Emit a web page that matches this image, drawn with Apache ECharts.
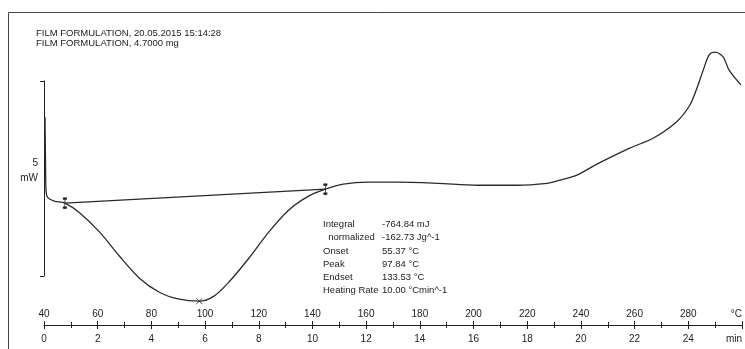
<!DOCTYPE html>
<html>
<head>
<meta charset="utf-8">
<script src="https://cdn.jsdelivr.net/npm/echarts@6/dist/echarts.min.js"></script>
<style>
  html, body { margin: 0; padding: 0; background: #fff; }
  #chart { width: 745px; height: 349px; }
</style>
</head>
<body>
<div id="chart"></div>
<script>
// DSC heating run, heat flow (mW) against sample temperature (°C)
const headerLines = ['FILM FORMULATION, 20.05.2015 15:14:28', 'FILM FORMULATION, 4.7000 mg'];

const curveTemp = [40.37, 40.56, 40.74, 41.11, 42.22, 44.07, 47.78, 53.33, 60.74, 68.15, 75.56, 82.96, 90.37, 97.84,
  103.33, 108.89, 116.30, 123.70, 131.11, 138.52, 144.81, 151.48, 160.74, 171.85, 186.67, 201.48, 216.30, 227.41,
  231.11, 238.52, 245.93, 258.15, 267.04, 275.56, 280.37, 282.96, 285.56, 287.78, 290.00, 292.96, 295.19, 299.63];
const curveHeatFlow = [4.08, 2.97, 2.21, 2.05, 1.97, 1.92, 1.87, 1.62, 1.13, 0.51, -0.05, -0.41, -0.59, -0.64,
  -0.51, -0.15, 0.46, 1.13, 1.69, 2.05, 2.23, 2.36, 2.41, 2.41, 2.38, 2.33, 2.33, 2.38,
  2.44, 2.59, 2.87, 3.28, 3.54, 3.95, 4.36, 4.77, 5.28, 5.67, 5.74, 5.62, 5.28, 4.90];

// integration limits (baseline end points) and peak position
const limitTemp = [47.78, 144.81];
const limitHeatFlow = [1.87, 2.23];
const peakTemp = [97.84];
const peakHeatFlow = [-0.64];

// axis ranges and ticks
const tempMin = 40, tempMax = 300, tempStep = 20;
const timeMin = 0, timeMax = 26, timeStep = 2;
const heatFlowMin = -1.25, heatFlowMax = 6;
const scaleBar = [0, 5];

const resultLabels = ['Integral', '  normalized', 'Onset', 'Peak', 'Endset', 'Heating Rate'];
const resultValues = ['-764.84 mJ', '-162.73 Jg^-1', '55.37 °C', '97.84 °C', '133.53 °C', '10.00 °Cmin^-1'];

const FONT = '"Liberation Sans", Arial, sans-serif';
const INK = '#222';

const zip = (xs, ys) => xs.map((x, i) => [x, ys[i]]);

const chart = echarts.init(document.getElementById('chart'), null, { renderer: 'canvas' });

chart.setOption({
  animation: false,
  backgroundColor: '#fff',
  grid: [
    { left: 44, width: 702, top: 42, bottom: 24 },
    { left: 44, width: 2, top: 81, bottom: 73 }
  ],
  xAxis: [
    {
      type: 'value', gridIndex: 0, position: 'bottom',
      min: tempMin, max: tempMax, interval: tempStep,
      axisLine: { show: true, onZero: false, lineStyle: { color: INK, width: 1 } },
      axisTick: { show: true, inside: true, length: 4, lineStyle: { color: INK } },
      minorTick: { show: true, splitNumber: 2, length: 3, lineStyle: { color: INK } },
      splitLine: { show: false },
      axisLabel: {
        inside: true, margin: 6, color: INK, fontFamily: FONT, fontSize: 10,
        alignMaxLabel: 'right',
        formatter: v => (v === tempMax ? '°C' : String(v))
      }
    },
    {
      type: 'value', gridIndex: 0, position: 'bottom',
      min: timeMin, max: timeMax, interval: timeStep,
      axisLine: { show: false, onZero: false },
      axisTick: { show: true, inside: false, length: 4, lineStyle: { color: INK } },
      minorTick: { show: true, splitNumber: 2, length: 3, lineStyle: { color: INK } },
      splitLine: { show: false },
      axisLabel: {
        margin: 9, color: INK, fontFamily: FONT, fontSize: 10,
        alignMaxLabel: 'right',
        formatter: v => (v === timeMax ? 'min' : String(v))
      }
    },
    { type: 'value', gridIndex: 1, show: false, min: 0, max: 1 }
  ],
  yAxis: [
    { type: 'value', gridIndex: 0, show: false, min: heatFlowMin, max: heatFlowMax },
    {
      type: 'value', gridIndex: 1, min: scaleBar[0], max: scaleBar[1], interval: scaleBar[1] - scaleBar[0],
      axisLine: { show: true, onZero: false, lineStyle: { color: INK, width: 1 } },
      axisTick: { show: true, length: 4, lineStyle: { color: INK } },
      axisLabel: { show: false },
      splitLine: { show: false },
      // trailing empty line lifts the two-line scale label above the bar's midpoint
      name: '5\nmW\n ', nameLocation: 'middle', nameRotate: 0, nameGap: 6,
      nameTextStyle: { align: 'right', color: INK, fontFamily: FONT, fontSize: 10, lineHeight: 15 }
    }
  ],
  series: [
    {
      name: 'Heat flow', type: 'line', xAxisIndex: 0, yAxisIndex: 0,
      data: zip(curveTemp, curveHeatFlow),
      smooth: 0.3, symbol: 'none',
      lineStyle: { color: '#2a2a2a', width: 1.3 }
    },
    {
      name: 'Baseline', type: 'line', xAxisIndex: 0, yAxisIndex: 0,
      data: zip(limitTemp, limitHeatFlow),
      symbol: 'path://M0,0 L0,12 M-1.5,1.5 L1.5,1.5 M-1.5,10.5 L1.5,10.5',
      symbolSize: [4, 12], showSymbol: true,
      itemStyle: { color: 'none', borderColor: INK, borderWidth: 1.3 },
      lineStyle: { color: '#2a2a2a', width: 1.3 }
    },
    {
      name: 'Peak', type: 'scatter', xAxisIndex: 0, yAxisIndex: 0,
      data: zip(peakTemp, peakHeatFlow),
      symbol: 'path://M0,0 L6,6 M0,6 L6,0', symbolSize: 6,
      itemStyle: { color: 'none', borderColor: INK, borderWidth: 1 }
    }
  ],
  graphic: [
    {
      type: 'rect', silent: true,
      shape: { x: 8.5, y: 12.5, width: 760, height: 360 },
      style: { fill: 'none', stroke: '#444', lineWidth: 1 }
    },
    {
      type: 'text', left: 36, top: 28, silent: true,
      style: { text: headerLines.join('\n'), font: '9.5px ' + FONT, fill: INK, lineHeight: 10.5 }
    },
    {
      type: 'text', left: 323, top: 218, silent: true,
      style: { text: resultLabels.join('\n'), font: '9.5px ' + FONT, fill: INK, lineHeight: 13.2 }
    },
    {
      type: 'text', left: 382, top: 218, silent: true,
      style: { text: resultValues.join('\n'), font: '9.5px ' + FONT, fill: INK, lineHeight: 13.2 }
    }
  ]
});
</script>
</body>
</html>
